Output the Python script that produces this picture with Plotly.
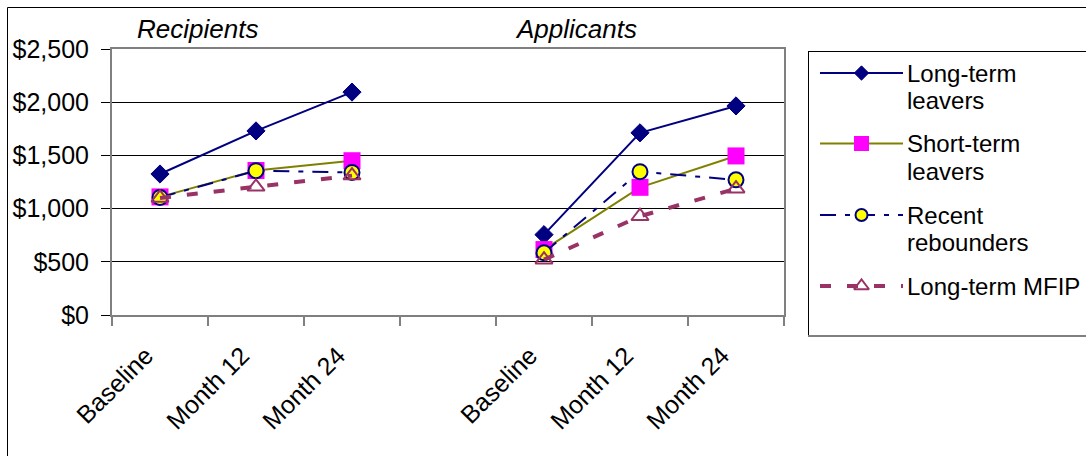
import plotly.graph_objects as go

# ---- data -------------------------------------------------------------
categories = ["Baseline", "Month 12", "Month 24", "", "Baseline", "Month 12", "Month 24"]
panel_titles = ["Recipients", "Applicants"]

long_term_leavers = [1325, 1730, 2095, None, 755, 1712, 1965]
short_term_leavers = [1110, 1358, 1450, None, 615, 1200, 1495]
recent_rebounders = [1105, 1356, 1340, None, 585, 1347, 1270]
long_term_mfip = [1100, 1205, 1310, None, 520, 928, 1187]

series_names = ["Long-term leavers", "Short-term leavers", "Recent rebounders", "Long-term MFIP"]
legend_lines = [["Long-term", "leavers"], ["Short-term", "leavers"],
                ["Recent", "rebounders"], ["Long-term MFIP"]]

# ---- layout constants (pixels) -------------------------------------------
W, H = 1086, 456
FONT = "Liberation Sans, Arial, sans-serif"
BOX_L, BOX_R, BOX_T, BOX_B = 112, 784, 49, 315
TITLE_X = [197, 576]
TITLE_Y = 29
LEG_L, LEG_T, LEG_B = 808, 51, 336
LEG_LINE_X = (820, 903)
LEG_MARK_X = 861.5
LEG_ROW_Y = [73, 143.5, 215, 286]
LEG_TEXT_X = 905
LEG_LINE_STEP = 27.5


def fx(px):
    return px / W


def fy(py):
    return 1 - py / H


NAVY = "#000080"
OLIVE = "#808000"
MAGENTA = "#FF00FF"
YELLOW = "#FFFF00"
PLUM = "#993366"
GRAY = "#808080"

styles = [
    dict(line=dict(color=NAVY, width=2),
         marker=dict(symbol="diamond", size=14, color=NAVY, line=dict(width=1, color=NAVY)),
         leg_size=11),
    dict(line=dict(color=OLIVE, width=2),
         marker=dict(symbol="square", size=17, color=MAGENTA, line=dict(width=0)),
         leg_size=15),
    dict(line=dict(color=NAVY, width=2, dash="16px,9px,5px,9px"),
         marker=dict(symbol="circle", size=15, color=YELLOW, line=dict(width=2, color=NAVY)),
         leg_size=12),
    dict(line=dict(color=PLUM, width=4, dash="11px,16px"),
         marker=dict(symbol="triangle-up-open", size=15, color=PLUM, line=dict(width=2, color=PLUM)),
         leg_size=13),
]

values = [long_term_leavers, short_term_leavers, recent_rebounders, long_term_mfip]
xpos = list(range(len(categories)))

fig = go.Figure()

for name, vals, st in zip(series_names, values, styles):
    fig.add_trace(go.Scatter(
        x=xpos, y=vals, name=name, mode="lines+markers",
        line=st["line"], marker=st["marker"], connectgaps=False,
        showlegend=False, cliponaxis=False,
    ))

# ---- hand-drawn key on a full-figure pixel axis ------------------------------
for st, ry in zip(styles, LEG_ROW_Y):
    fig.add_trace(go.Scatter(
        x=list(LEG_LINE_X), y=[ry, ry], mode="lines", line=st["line"],
        xaxis="x2", yaxis="y2", showlegend=False, hoverinfo="skip", cliponaxis=False,
    ))
    mk = dict(st["marker"])
    mk["size"] = st["leg_size"]
    fig.add_trace(go.Scatter(
        x=[LEG_MARK_X], y=[ry], mode="markers", marker=mk,
        xaxis="x2", yaxis="y2", showlegend=False, hoverinfo="skip", cliponaxis=False,
    ))

annotations = []
for title, tx in zip(panel_titles, TITLE_X):
    annotations.append(dict(
        text="<i>%s</i>" % title, x=fx(tx), y=fy(TITLE_Y), xref="paper", yref="paper",
        xanchor="center", yanchor="middle", showarrow=False,
        font=dict(family=FONT, size=26, color="black"),
    ))
for lines, ry in zip(legend_lines, LEG_ROW_Y):
    for k, txt in enumerate(lines):
        annotations.append(dict(
            text=txt, x=fx(LEG_TEXT_X), y=fy(ry + k * LEG_LINE_STEP), xref="paper", yref="paper",
            xanchor="left", yanchor="middle", showarrow=False,
            font=dict(family=FONT, size=24, color="black"),
        ))


def seg(x0, y0, x1, y1, color="black", width=1):
    return dict(type="line", xref="paper", yref="paper",
                x0=fx(x0), y0=fy(y0), x1=fx(x1), y1=fy(y1),
                line=dict(color=color, width=width))


shapes = [
    # outer chart frame (left and top edges fall inside the page)
    seg(7.5, 7.5, 7.5, H),
    seg(7.5, 7.5, W, 7.5),
    # key frame
    seg(LEG_L + 0.5, LEG_T, LEG_L + 0.5, LEG_B),
    seg(LEG_L, LEG_T + 0.5, W, LEG_T + 0.5),
    seg(LEG_L, LEG_B, W, LEG_B, color=GRAY, width=2),
]

fig.update_layout(
    width=W, height=H, autosize=False,
    margin=dict(l=0, r=0, t=0, b=0, pad=0, autoexpand=False),
    paper_bgcolor="white", plot_bgcolor="rgba(0,0,0,0)",
    font=dict(family=FONT, size=24, color="black"),
    showlegend=False,
    annotations=annotations, shapes=shapes,
    xaxis=dict(
        domain=[fx(BOX_L), fx(BOX_R)], range=[-0.5, len(categories) - 0.5],
        tickmode="array", tickvals=xpos, ticktext=categories, tickangle=-45,
        ticks="", showgrid=False, zeroline=False, automargin=False,
        ticklabelstandoff=14, ticklabelshift=-14,
        showline=True, linecolor=GRAY, linewidth=2, mirror=True,
        tickfont=dict(family=FONT, size=25, color="black"),
        minor=dict(tickmode="array", tickvals=[v - 0.5 for v in xpos] + [len(categories) - 0.5],
                   ticks="outside", ticklen=9, tickwidth=2, tickcolor=GRAY, showgrid=False),
        fixedrange=True,
    ),
    yaxis=dict(
        domain=[fy(BOX_B), fy(BOX_T)], range=[0, 2500], dtick=500, tick0=0,
        tickprefix="$", tickformat=",d", automargin=False,
        ticks="outside", ticklen=9, tickwidth=1, tickcolor="black",
        ticklabelstandoff=7,
        showgrid=True, gridcolor="black", gridwidth=1, zeroline=False,
        showline=True, linecolor=GRAY, linewidth=2, mirror=True,
        tickfont=dict(family=FONT, size=25, color="black"),
        fixedrange=True,
    ),
    xaxis2=dict(domain=[0, 1], range=[0, W], visible=False, anchor="y2", fixedrange=True),
    yaxis2=dict(domain=[0, 1], range=[H, 0], visible=False, anchor="x2", fixedrange=True),
)

fig.write_html("out.html")
